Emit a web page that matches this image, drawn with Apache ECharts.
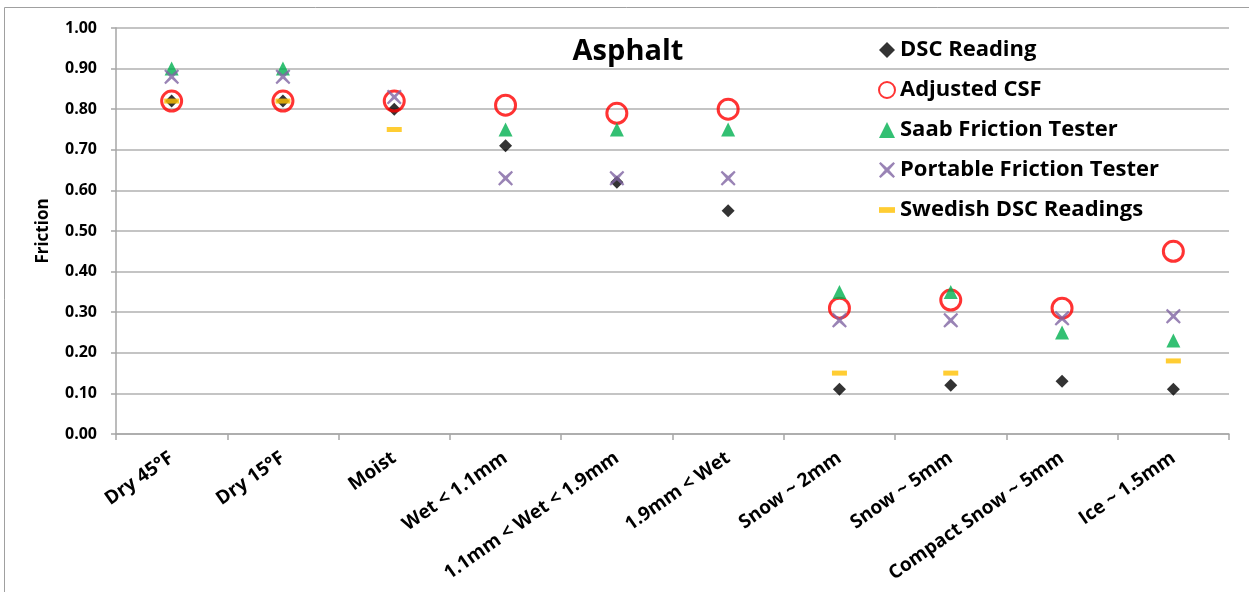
<!DOCTYPE html>
<html>
<head>
<meta charset="utf-8">
<script src="https://cdn.jsdelivr.net/npm/echarts@6/dist/echarts.min.js"></script>
<style>html,body{margin:0;padding:0;background:#fff;}#c{width:1249px;height:592px;}</style>
</head>
<body>
<div id="c"></div>
<script>
const categories = ['Dry 45°F','Dry 15°F','Moist','Wet < 1.1mm','1.1mm < Wet < 1.9mm','1.9mm < Wet','Snow ~ 2mm','Snow ~ 5mm','Compact Snow ~ 5mm','Ice ~ 1.5mm'];
const dscReading = [0.82,0.82,0.80,0.71,0.62,0.55,0.11,0.12,0.13,0.11];
const adjustedCSF = [0.82,0.82,0.82,0.81,0.79,0.80,0.31,0.33,0.31,0.45];
const saabTester = [0.90,0.90,null,0.75,0.75,0.75,0.35,0.35,0.25,0.23];
const portableTester = [0.88,0.88,0.83,0.63,0.63,0.63,0.28,0.28,0.285,0.29];
const swedishDSC = [0.82,0.82,0.75,null,null,null,0.15,0.15,null,0.18];
const yTicks = [0,0.1,0.2,0.3,0.4,0.5,0.6,0.7,0.8,0.9,1.0];

const FONT = 'Open Sans';
const xPath = 'path://M1,0 L5,3.6 L9,0 L10,1 L6.4,5 L10,9 L9,10 L5,6.4 L1,10 L0,9 L3.6,5 L0,1 Z';
const dashPath = 'path://M0,0 L14,0 L14,5 L0,5 Z';
const seriesNames = ['DSC Reading','Adjusted CSF','Saab Friction Tester','Portable Friction Tester','Swedish DSC Readings'];

const chart = echarts.init(document.getElementById('c'), null, {renderer:'canvas'});
chart.setOption({
  animation: false,
  backgroundColor: '#fff',
  title: {
    text: 'Asphalt', left: 623, top: 32, textAlign: 'center',
    textStyle: {fontFamily: FONT, fontWeight: 'bold', fontSize: 29, color: '#000'}
  },
  graphic: [
    {type:'line', shape:{x1:4.5,y1:7.5,x2:1249,y2:7.5}, style:{stroke:'#a0a0a0', lineWidth:1}},
    {type:'line', shape:{x1:4.5,y1:7.5,x2:4.5,y2:592}, style:{stroke:'#a0a0a0', lineWidth:1}}
  ],
  legend: {
    orient: 'vertical', left: 873, top: 34,
    itemWidth: 16, itemHeight: 16, itemGap: 18,
    textStyle: {fontFamily: FONT, fontWeight: 'bold', fontSize: 22, color: '#000', lineHeight: 22},
    data: [
      {name: seriesNames[0]},
      {name: seriesNames[1]},
      {name: seriesNames[2]},
      {name: seriesNames[3]},
      {name: seriesNames[4], icon: dashPath}
    ]
  },
  grid: {left: 116, right: 20, top: 28, bottom: 158},
  xAxis: {
    type: 'category', data: categories, boundaryGap: true,
    axisLine: {lineStyle: {color: '#a6a6a6', width: 1.5}},
    axisTick: {show: true, length: 6, lineStyle: {color: '#a6a6a6', width: 1.5}},
    axisLabel: {interval: 0, rotate: 35, margin: 22, fontFamily: FONT, fontWeight: 'bold', fontSize: 19, color: '#000'}
  },
  yAxis: {
    type: 'value', min: 0, max: 1, interval: 0.1,
    name: 'Friction', nameLocation: 'middle', nameGap: 64, nameRotate: 90,
    nameTextStyle: {fontFamily: FONT, fontWeight: 'bold', fontSize: 17, color: '#000'},
    axisLine: {show: true, lineStyle: {color: '#a6a6a6', width: 1.5}},
    axisTick: {show: true, length: 5, lineStyle: {color: '#a6a6a6', width: 1.5}},
    splitLine: {show: true, lineStyle: {color: '#b0b0b0', width: 1.5}},
    axisLabel: {margin: 19, fontFamily: FONT, fontWeight: 'bold', fontSize: 16, color: '#000',
      formatter: v => v.toFixed(2)}
  },
  series: [
    {name: seriesNames[0], type:'scatter', data: dscReading, symbol:'diamond', symbolSize: 13,
      itemStyle:{color:'#000'}},
    {name: seriesNames[1], type:'scatter', data: adjustedCSF, symbol:'circle', symbolSize: 20,
      itemStyle:{color:'rgba(0,0,0,0)', borderColor:'#ff0000', borderWidth: 3}},
    {name: seriesNames[2], type:'scatter', data: saabTester, symbol:'triangle', symbolSize: 14,
      itemStyle:{color:'#00b050'}},
    {name: seriesNames[3], type:'scatter', data: portableTester, symbol: xPath, symbolSize: 15,
      itemStyle:{color:'#8064a2'}},
    {name: seriesNames[4], type:'scatter', data: swedishDSC, symbol: 'rect', symbolSize: [15,5],
      itemStyle:{color:'#ffc000'}}
  ]
});
</script>
</body>
</html>
